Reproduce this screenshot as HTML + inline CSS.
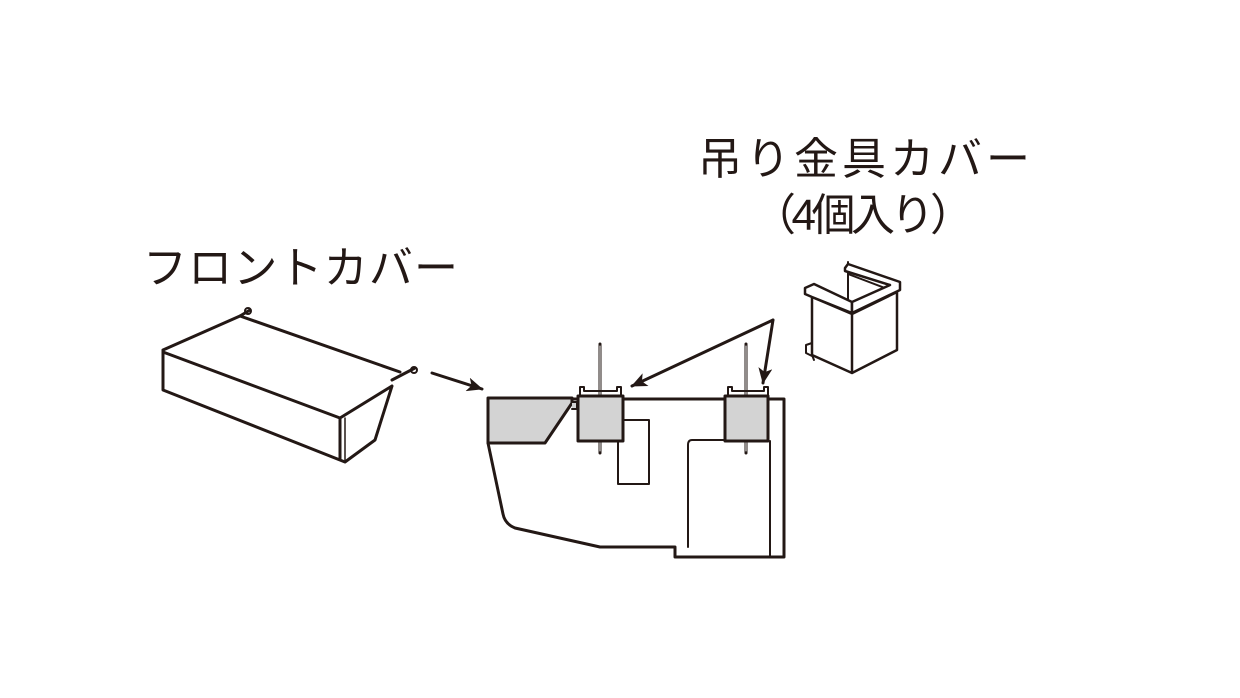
<!DOCTYPE html>
<html><head><meta charset="utf-8"><style>
body{margin:0;background:#fff;width:1240px;height:698px;overflow:hidden;}
svg{position:absolute;left:0;top:0}
text{font-family:"Liberation Sans","Noto Sans CJK JP",sans-serif;fill:#231815;font-size:44px}
</style></head><body>
<svg width="1240" height="698" viewBox="0 0 1240 698">
<defs><marker id="b" markerWidth="16" markerHeight="14" refX="15" refY="7" orient="auto" markerUnits="userSpaceOnUse"><path d="M0,0 L16,7 L0,14 L4,7z" fill="#231815"/></marker></defs>
<text x="143" y="283" textLength="315" lengthAdjust="spacing">フロントカバー</text>
<text x="698" y="174" textLength="332" lengthAdjust="spacing">吊り金具カバー</text>
<text x="752" y="230" textLength="222" lengthAdjust="spacing">（4個入り）</text>
<g stroke="#231815" fill="none" stroke-linejoin="round" stroke-linecap="round">
<path d="M163,350 L240,316 L400,372 M163,352 L340,418 L392,386 M163,350 L163,390 L345,462 L375,440 L392,386 M340,418 L340,460" stroke-width="3"/>
<path d="M345,418 L345,460" stroke-width="1.5"/>
<path d="M240,316 L250,310 M392,380 L415,368" stroke-width="3"/>
<circle cx="248" cy="311" r="3" stroke-width="2"/><circle cx="414" cy="370" r="3" stroke-width="2"/>
<line x1="432" y1="373" x2="482" y2="389" stroke-width="3" marker-end="url(#b)"/>
<line x1="773" y1="320" x2="632" y2="386" stroke-width="3" marker-end="url(#b)"/>
<line x1="773" y1="320" x2="763" y2="383" stroke-width="3" marker-end="url(#b)"/>
<path d="M488,398 L572,398 L572,403 L545,443 L488,443z" fill="#d3d3d3" stroke-width="3"/>
<path d="M572,399 L784,399 L784,557 L675,557 L675,547 L600,547 L515,528 Q505,524 503,514 L488,443" stroke-width="3"/>
<path d="M572,402 L577,402 L577,409 L572,409" fill="#d3d3d3" stroke-width="2"/>
<rect x="618" y="420" width="31" height="64" stroke-width="2"/>
<path d="M725,440 L692,440 Q688,440 688,445 L688,547 M770,441 L770,557" stroke-width="2"/>
<path d="M600,344 L600,453 M746,344 L746,453" stroke-width="3"/>
<path d="M600,346 L600,451 M746,346 L746,451" stroke="#fff" stroke-width="1"/>
<path d="M580,395 L580,387 L584,387 L584,391 L617,391 L617,387 L621,387 L621,395 M728,395 L728,387 L732,387 L732,391 L764,391 L764,387 L768,387 L768,395" stroke-width="2"/>
<rect x="578" y="396" width="45" height="45" fill="#d3d3d3" stroke-width="3"/>
<rect x="725" y="396" width="43" height="45" fill="#d3d3d3" stroke-width="3"/>
<path d="M812,297 L852,314 L852,373 L812,355z M852,314 L897,292 L897,350 L852,373" stroke-width="2.5" fill="#fff"/>
<path d="M848,262 L848,300 M848,274 L890,290" stroke-width="2"/>
<path d="M805,288 L814,284 L852,302 L852,313 L812,297 L805,294z" stroke-width="2.5" fill="#fff"/>
<path d="M845,268 L848,264 L900,282 L900,290 L852,313 L852,302 L890,285 L845,271z" stroke-width="2.5" fill="#fff"/>
<path d="M812,343 L806,345 L806,353 L812,356 M812,355 L814,360" stroke-width="2"/>
</g>
</svg>
</body></html>
